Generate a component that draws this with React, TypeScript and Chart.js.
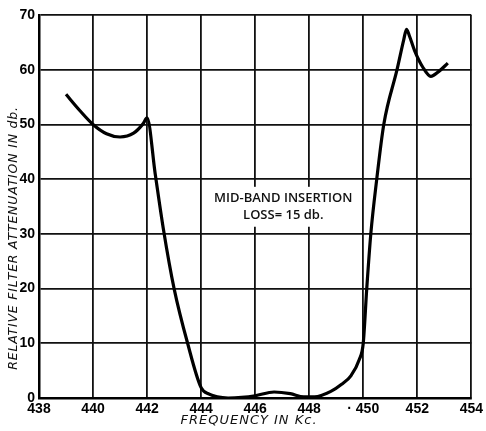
import React, { useEffect, useRef } from "react";
import { Chart, registerables } from "chart.js";

Chart.register(...registerables);

const freqKc = [
  439.0, 439.5, 440.0, 440.5, 441.0, 441.5, 441.85, 442.0, 442.3, 442.6, 443.0, 443.5, 444.0,
  444.3, 444.6, 445.0, 445.5, 446.0, 446.7, 447.3, 447.8, 448.2, 448.8, 449.2, 449.55, 449.85, 450.0,
  450.13, 450.28, 450.5, 450.76, 451.25, 451.5, 451.6, 451.7, 451.9, 452.2, 452.5, 452.8, 453.13,
];
const attenuationDb = [
  55.5, 52.6, 50.0, 48.3, 47.7, 48.4, 50.1, 51.2, 41.0, 31.0, 20.0, 10.0, 1.9,
  0.7, 0.2, 0.0, 0.1, 0.4, 1.1, 0.8, 0.2, 0.2, 1.2, 2.5, 4.1, 7.0, 10.0,
  20.0, 30.0, 40.0, 50.0, 60.0, 65.5, 67.4, 66.3, 63.5, 60.5, 58.8, 59.7, 61.2,
];
const xTickLabels: Record<number, string> = {
  438: "438", 440: "440", 442: "442", 444: "444", 446: "446", 448: "448", 450: "· 450", 452: "452", 454: "454",
};
const yTicks = [0, 10, 20, 30, 40, 50, 60, 70];
const annotationLines = ["MID-BAND INSERTION", "LOSS= 15 db."];
const xTitle = "FREQUENCY IN Kc.";
const yTitle = "RELATIVE FILTER ATTENUATION IN db.";

export default function App() {
  const ref = useRef<HTMLCanvasElement | null>(null);

  useEffect(() => {
    document.body.style.margin = "0";
    const canvas = ref.current!;
    const points = freqKc.map((f, i) => ({ x: f, y: attenuationDb[i] }));

    const decor = {
      id: "decor",
      afterDraw(chart: any) {
        const ctx = chart.ctx;
        const xs = chart.scales.x;
        const ys = chart.scales.y;
        ctx.save();
        // annotation box
        const bx1 = xs.getPixelForValue(444.07);
        const bx2 = xs.getPixelForValue(449.93);
        const by1 = ys.getPixelForValue(38.6);
        const by2 = ys.getPixelForValue(31.3);
        ctx.fillStyle = "#fff";
        ctx.fillRect(bx1 + 1.5, by1, bx2 - bx1 - 3, by2 - by1);
        ctx.fillStyle = "#111";
        ctx.font = "600 13px 'Open Sans'";
        ctx.textAlign = "center";
        ctx.textBaseline = "middle";
        const cx = xs.getPixelForValue(447.04);
        ctx.fillText(annotationLines[0], cx, ys.getPixelForValue(36.5));
        ctx.fillText(annotationLines[1], cx, ys.getPixelForValue(33.4));
        // axis titles
        ctx.font = "italic 13px 'DejaVu Sans'";
        (ctx as any).letterSpacing = "1px";
        ctx.fillText(xTitle, 249, 421);
        ctx.translate(14, 238);
        ctx.rotate(-Math.PI / 2);
        ctx.font = "italic 12.5px 'DejaVu Sans'";
        (ctx as any).letterSpacing = "0.8px";
        ctx.fillText(yTitle, 0, 0);
        ctx.restore();
      },
    };

    const chart = new Chart(canvas, {
      type: "scatter",
      data: {
        datasets: [
          {
            data: points,
            showLine: true,
            borderColor: "#000",
            borderWidth: 3.2,
            pointRadius: 0,
            cubicInterpolationMode: "monotone",
            fill: false,
          },
        ],
      },
      options: {
        responsive: false,
        animation: false,
        devicePixelRatio: 1,
        layout: { padding: { top: 15, right: 8, left: 0, bottom: 0 } },
        plugins: { legend: { display: false }, tooltip: { enabled: false } },
        scales: {
          x: {
            type: "linear",
            min: 438,
            max: 454,
            afterFit: (s: any) => { s.height = 33; },
            afterBuildTicks: (s: any) => {
              s.ticks = Object.keys(xTickLabels).map((k) => ({ value: Number(k) }));
            },
            ticks: {
              color: "#000",
              padding: 3,
              maxRotation: 0,
              autoSkip: false,
              font: { family: "'Liberation Sans'", weight: "bold", size: 14 },
              callback: (v: any) => xTickLabels[v as number] ?? "",
            },
            grid: { color: "#111", lineWidth: 1.8, drawTicks: false },
            border: { color: "#000", width: 2.5 },
          },
          y: {
            min: 0,
            max: 70,
            afterFit: (s: any) => { s.width = 39; },
            afterBuildTicks: (s: any) => {
              s.ticks = yTicks.map((v) => ({ value: v }));
            },
            ticks: {
              color: "#000",
              padding: 4,
              font: { family: "'Liberation Sans'", weight: "bold", size: 14 },
            },
            grid: { color: "#111", lineWidth: 1.8, drawTicks: false },
            border: { color: "#000", width: 2.5 },
          },
        },
      },
      plugins: [decor],
    } as any);

    return () => chart.destroy();
  }, []);

  return <canvas ref={ref} width={486} height={431} style={{ display: "block" }} />;
}
